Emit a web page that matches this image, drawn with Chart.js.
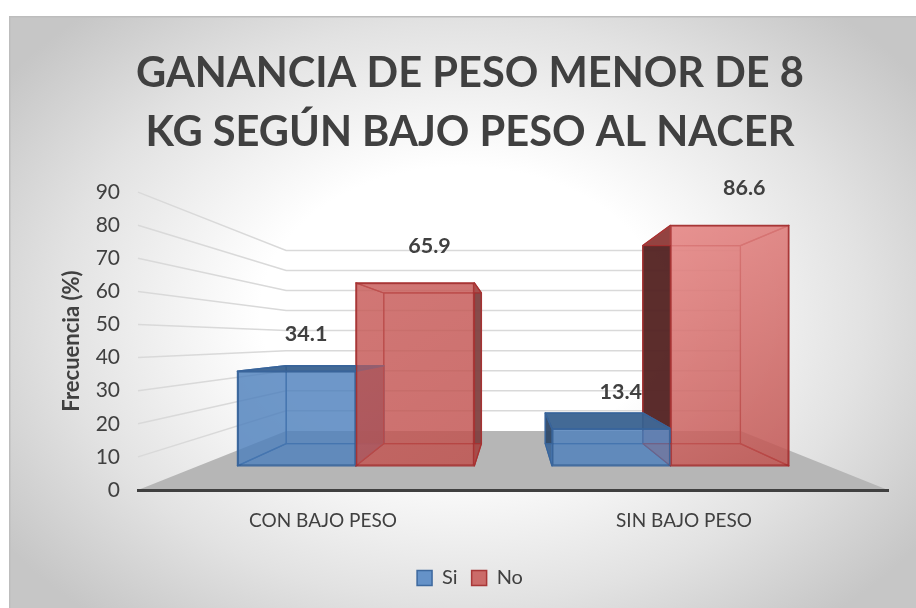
<!DOCTYPE html>
<html><head><meta charset="utf-8">
<style>html,body{margin:0;padding:0;background:#fff}canvas{display:block}</style>
<script src="https://cdn.jsdelivr.net/npm/chart.js@4"></script></head>
<body><canvas id="c" width="916" height="608"></canvas>
<script>
const categories = ['CON BAJO PESO', 'SIN BAJO PESO'];
const siValues = [34.1, 13.4];
const noValues = [65.9, 86.6];
const yTicks = [0, 10, 20, 30, 40, 50, 60, 70, 80, 90];
const titleLines = ['GANANCIA DE PESO MENOR DE 8', 'KG SEGÚN BAJO PESO AL NACER'];

const VP = {x: 514, y: 340};              // vanishing point of the 3D view
const K = {front: 0.839, back: 0.691, wall: 0.606};
const INK = '#404040';
const FONT = 'Lato';
const STYLE = [
  {fill:'rgba(79,129,189,0.6)', inner:'rgba(79,129,189,0.55)', left:'rgba(45,70,100,0.9)', right:'rgba(60,90,130,0.85)', top:'rgba(55,95,140,0.88)', edge:'rgba(56,100,155,0.95)', solid:'#6592c8', labelDx:9.5},
  {fill:'rgba(192,80,77,0.6)',  inner:'rgba(192,80,77,0.55)',  left:'rgba(80,35,35,0.92)',  right:'rgba(125,65,65,0.9)', top:'rgba(130,50,50,0.8)', edge:'rgba(165,50,50,0.95)',  solid:'#cb6b69', labelDx:14.5}
];
const P = (x, y, k) => [VP.x + (x - VP.x) * k, VP.y + (y - VP.y) * k];

function poly(ctx, pts, fill, stroke, lw) {
  ctx.beginPath();
  pts.forEach((p, i) => i ? ctx.lineTo(p[0], p[1]) : ctx.moveTo(p[0], p[1]));
  ctx.closePath();
  if (fill) { ctx.fillStyle = fill; ctx.fill(); }
  if (stroke) { ctx.strokeStyle = stroke; ctx.lineWidth = lw || 1.5; ctx.lineJoin = 'round'; ctx.stroke(); }
}

const scene = {
  id: 'scene3d',
  beforeDraw(chart) {
    const {ctx, width, height, chartArea: a, scales} = chart;
    ctx.save();
    // panel
    const fx = 9, fy = 16, cx = 462, cy = 312;
    ctx.save();
    ctx.translate(cx, cy); ctx.scale(1, 0.72);
    const g = ctx.createRadialGradient(0, 0, 0, 0, 0, 560);
    g.addColorStop(0, '#ffffff'); g.addColorStop(0.36, '#ffffff');
    g.addColorStop(0.72, '#e2e2e2'); g.addColorStop(1, '#c6c6c6');
    ctx.fillStyle = g;
    ctx.fillRect(fx - cx, (fy - cy) / 0.72, width - fx + 10, (height - fy + 10) / 0.72);
    ctx.restore();
    ctx.fillStyle = '#bdbdbd';
    ctx.fillRect(fx, fy, width - fx, 1.5);
    ctx.fillRect(fx, fy, 1.5, height - fy);
    // floor
    poly(ctx, [[a.left, a.bottom], P(a.left, a.bottom, K.wall), P(a.right, a.bottom, K.wall), [a.right, a.bottom]], '#b6b6b6');
    // gridlines: side wall + back wall
    ctx.strokeStyle = '#d9d9d9'; ctx.lineWidth = 1.5;
    for (const v of yTicks) {
      if (v === 0) continue;
      const y = scales.y.getPixelForValue(v);
      const b = P(a.left, y, K.wall), r = P(a.right, y, K.wall);
      ctx.beginPath(); ctx.moveTo(a.left, y); ctx.lineTo(b[0], b[1]); ctx.lineTo(r[0], r[1]); ctx.stroke();
    }
    ctx.restore();
  },
  beforeDatasetsDraw(chart) {
    const {ctx} = chart;
    ctx.save();
    const f = K.front, b = K.back;
    const boxes = [];
    chart.data.datasets.forEach((ds, d) => {
      chart.getDatasetMeta(d).data.forEach((el, i) => {
        const {x, y, base, width} = el.getProps(['x', 'y', 'base', 'width'], true);
        // a wall shared with the neighbouring bar only shows above that bar
        const nb = d > 0 ? chart.getDatasetMeta(d - 1).data[i].getProps(['y'], true).y : base;
        boxes.push({st: STYLE[d], l: x - width / 2, r: x + width / 2, y, base, wallBase: nb});
      });
    });
    // back faces
    boxes.forEach(o => {
      poly(ctx, [P(o.l, o.y, b), P(o.r, o.y, b), P(o.r, o.base, b), P(o.l, o.base, b)], o.st.inner, o.st.edge, 1.2);
    });
    // outer walls
    boxes.forEach(o => {
      if (o.l > VP.x) poly(ctx, [P(o.l, o.y, f), P(o.l, o.y, b), P(o.l, o.wallBase, b), P(o.l, o.wallBase, f)], o.st.left, o.st.edge, 1.5);
      if (o.r < VP.x) poly(ctx, [P(o.r, o.y, f), P(o.r, o.y, b), P(o.r, o.base, b), P(o.r, o.base, f)], o.st.right, o.st.edge, 1.5);
    });
    // faces seen through the front
    boxes.forEach(o => {
      const {l, r, y, base, st} = o;
      poly(ctx, [P(l, base, f), P(r, base, f), P(r, base, b), P(l, base, b)], st.inner, st.edge, 1.2);
      if (l <= VP.x) poly(ctx, [P(l, y, f), P(l, y, b), P(l, base, b), P(l, base, f)], st.inner, st.edge, 1.2);
      if (r >= VP.x) poly(ctx, [P(r, y, f), P(r, y, b), P(r, base, b), P(r, base, f)], st.inner, st.edge, 1.2);
      if (y <= VP.y) poly(ctx, [P(l, y, f), P(r, y, f), P(r, y, b), P(l, y, b)], st.inner, st.edge, 1.2);
    });
    // tops seen from above
    boxes.forEach(o => {
      if (o.y > VP.y) poly(ctx, [P(o.l, o.y, f), P(o.r, o.y, f), P(o.r, o.y, b), P(o.l, o.y, b)], o.st.top, o.st.edge, 1.5);
    });
    ctx.restore();
    // native bars are the front faces of the boxes
    ctx.save();
    ctx.translate(VP.x, VP.y); ctx.scale(K.front, K.front); ctx.translate(-VP.x, -VP.y);
  },
  afterDatasetsDraw(chart) {
    const {ctx} = chart;
    ctx.restore();
    ctx.save();
    chart.data.datasets.forEach((ds, d) => {
      chart.getDatasetMeta(d).data.forEach((el, i) => {
        const {x, y, base, width} = el.getProps(['x', 'y', 'base', 'width'], true);
        const tl = P(x - width / 2, y, K.front), br = P(x + width / 2, base, K.front);
        // lighting on the tall bar
        const glow = Math.max(0, (ds.data[i] - 60) / 26.6) * 0.55;
        if (glow > 0) {
          const g = ctx.createLinearGradient(tl[0], tl[1], br[0], br[1]);
          g.addColorStop(0, 'rgba(255,175,175,' + glow + ')');
          g.addColorStop(1, 'rgba(255,175,175,0)');
          ctx.fillStyle = g;
          ctx.fillRect(tl[0] + 1, tl[1] + 1, br[0] - tl[0] - 2, br[1] - tl[1] - 2);
        }
        ctx.fillStyle = INK;
        ctx.font = 'bold 21.5px ' + FONT;
        ctx.textAlign = 'center'; ctx.textBaseline = 'middle';
        ctx.fillText(ds.data[i].toFixed(1), (tl[0] + br[0]) / 2 + STYLE[d].labelDx, tl[1] - 37);
      });
    });
    ctx.restore();
  }
};

new Chart(document.getElementById('c'), {
  type: 'bar',
  plugins: [scene],
  data: {
    labels: categories,
    datasets: [
      {label: 'Si', data: siValues, backgroundColor: STYLE[0].fill, borderColor: STYLE[0].edge},
      {label: 'No', data: noValues, backgroundColor: STYLE[1].fill, borderColor: STYLE[1].edge}
    ]
  },
  options: {
    responsive: false,
    animation: false,
    devicePixelRatio: 1,
    categoryPercentage: 0.753,
    barPercentage: 1,
    datasets: {bar: {borderWidth: 2, borderSkipped: false}},
    layout: {padding: {left: 52, right: 28, top: 44, bottom: 10}},
    plugins: {
      tooltip: {enabled: false},
      title: {
        display: true, text: titleLines, color: INK,
        font: {family: FONT, size: 41.6, weight: 'bold', lineHeight: 1.42},
        padding: {top: 0, bottom: 30}
      },
      legend: {
        position: 'bottom',
        labels: {
          color: INK, boxWidth: 15, boxHeight: 15, padding: 14,
          font: {family: FONT, size: 20},
          generateLabels: chart => chart.data.datasets.map((ds, i) => ({
            text: ds.label, fillStyle: STYLE[i].solid, strokeStyle: STYLE[i].edge,
            lineWidth: 1.5, datasetIndex: i, fontColor: INK
          }))
        }
      }
    },
    scales: {
      x: {
        type: 'category', position: 'bottom',
        grid: {display: false},
        border: {display: true, color: INK, width: 3},
        ticks: {display: false},
        afterFit: s => { s.height = 0; }
      },
      xLabels: {
        type: 'linear', position: 'bottom', min: -0.5125, max: 1.565, offset: false,
        grid: {display: false}, border: {display: false},
        afterBuildTicks: s => { s.ticks = categories.map((_, i) => ({value: i})); },
        afterFit: s => { s.height = 64; },
        ticks: {
          color: INK, padding: 11.5, maxRotation: 0, autoSkip: false,
          font: {family: FONT, size: 19},
          callback: v => categories[v]
        }
      },
      y: {
        type: 'linear', min: 0, max: 90,
        grid: {display: false}, border: {display: false},
        afterBuildTicks: s => { s.ticks = yTicks.map(v => ({value: v})); },
        afterFit: s => { s.width = 86; },
        ticks: {color: INK, padding: 10, font: {family: FONT, size: 21}},
        title: {
          display: true, text: 'Frecuencia (%)', color: INK,
          font: {family: FONT, size: 22, weight: 'bold'},
          padding: {top: 7, bottom: 0}
        }
      }
    }
  }
});
</script></body></html>
